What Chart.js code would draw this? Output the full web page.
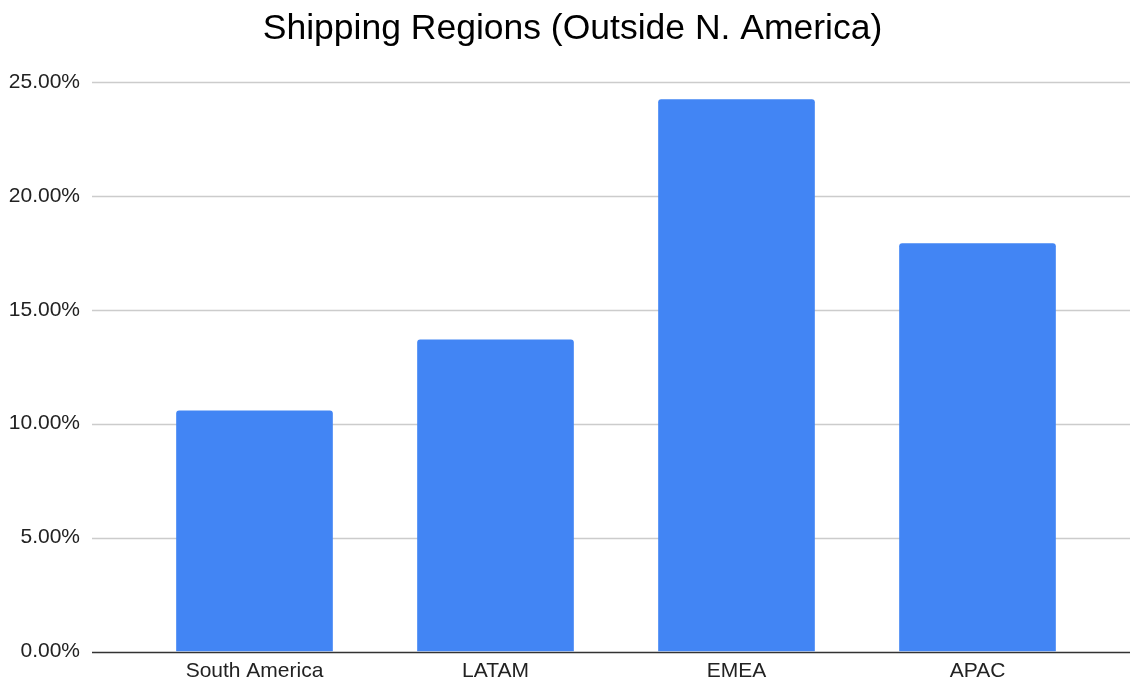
<!DOCTYPE html>
<html>
<head>
<meta charset="utf-8">
<script src="https://cdn.jsdelivr.net/npm/chart.js@4/dist/chart.umd.min.js"></script>
<style>
  html, body { margin: 0; padding: 0; background: #fff; }
  #wrap { width: 1130px; height: 680px; }
</style>
</head>
<body>
<div id="wrap"><canvas id="shipChart" width="1130" height="680"></canvas></div>
<script>
const regions = ["South America", "LATAM", "EMEA", "APAC"];
const shareValues = [10.58, 13.70, 24.24, 17.92];
const yTicks = [0, 5, 10, 15, 20, 25];

const FONT = "'Liberation Sans', Arial, sans-serif";

// google-sheets style gridlines run wider than the bar area
const wideGrid = {
  id: "wideGrid",
  afterLayout(chart) {
    // title is centred a bit right of the canvas middle in the original
    chart.titleBlock.left = 15;
    chart.titleBlock.right = chart.width;
  },
  beforeDatasetsDraw(chart) {
    const ctx = chart.ctx;
    const y = chart.scales.y;
    ctx.save();
    yTicks.forEach(v => {
      const py = Math.round(y.getPixelForValue(v)) + 0.5;
      ctx.beginPath();
      ctx.strokeStyle = v === 0 ? "#333333" : "#cccccc";
      ctx.lineWidth = 1.5;
      ctx.moveTo(92, py);
      ctx.lineTo(chart.width, py);
      ctx.stroke();
    });
    ctx.restore();
  }
};

new Chart(document.getElementById("shipChart"), {
  type: "bar",
  data: {
    labels: regions,
    datasets: [{
      data: shareValues,
      backgroundColor: "#4285f4",
      borderRadius: { topLeft: 3, topRight: 3 },
      borderSkipped: false,
      categoryPercentage: 1,
      barPercentage: 0.65
    }]
  },
  options: {
    responsive: false,
    animation: false,
    layout: { padding: { left: 0, right: 32, top: 0, bottom: 0 } },
    plugins: {
      legend: { display: false },
      tooltip: { enabled: false },
      title: {
        display: true,
        text: "Shipping Regions (Outside N. America)",
        color: "#000",
        font: { family: FONT, size: 35.5, weight: "normal" },
        padding: { top: 8, bottom: 31.4 }
      }
    },
    scales: {
      x: {
        afterFit(s) { s.height = 28.5; },
        grid: { display: false, drawTicks: false },
        border: { display: false },
        ticks: { color: "#222", font: { family: FONT, size: 21 }, padding: 7.5, maxRotation: 0 }
      },
      y: {
        min: 0,
        max: 25,
        afterFit(s) { s.width = 134; },
        afterBuildTicks(s) { s.ticks = yTicks.map(v => ({ value: v })); },
        grid: { display: false, tickLength: 54 },
        border: { display: false },
        ticks: {
          color: "#222",
          font: { family: FONT, size: 21 },
          padding: 0,
          callback: v => v.toFixed(2) + "%"
        }
      }
    }
  },
  plugins: [wideGrid]
});
</script>
</body>
</html>
